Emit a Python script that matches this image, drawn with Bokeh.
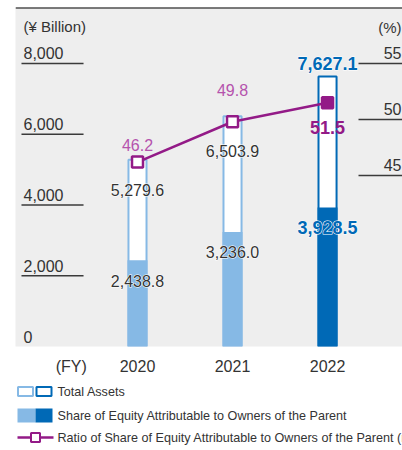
from bokeh.plotting import figure
from bokeh.models import Range1d, FixedTicker, Span
from bokeh.layouts import column
from bokeh.core.properties import value
from bokeh.embed import file_html
from bokeh.resources import INLINE

# ---- data ----
years = ["2020", "2021", "2022"]
total_assets = [5279.6, 6503.9, 7627.1]
equity = [2438.8, 3236.0, 3928.5]
ratio = [46.2, 49.8, 51.5]
left_ticks = [0, 2000, 4000, 6000, 8000]
right_ticks = [45, 50, 55]
legend_labels = ["Total Assets",
                 "Share of Equity Attributable to Owners of the Parent",
                 "Ratio of Share of Equity Attributable to Owners of the Parent (right)"]

# ---- styles ----
LIGHT = "#86b9e5"
DARK = "#0069b6"
PURPLE = "#931a87"
LPURPLE = "#b553ad"
GRAY_TXT = "#333333"
FONT = value("Liberation Sans")

xs = list(range(len(years)))
bar_colors = [LIGHT, LIGHT, DARK]
Y_END = 9580
X0, X1 = -1.284, 2.789

p = figure(width=402, height=380, x_range=Range1d(X0, X1), y_range=Range1d(0, Y_END),
           output_backend="svg", toolbar_location=None, y_axis_location=None,
           min_border_left=15, min_border_right=0, min_border_top=7, min_border_bottom=34,
           background_fill_color="#eeeeee", border_fill_color="white", outline_line_color=None)
p.extra_y_ranges = {"pct": Range1d(29.73, 60.0)}
p.grid.visible = False

ax = p.xaxis[0]
ax.ticker = FixedTicker(ticks=[-0.698] + xs)
ax.major_label_overrides = {-0.698: "(FY)", **{x: y for x, y in zip(xs, years)}}
ax.axis_line_color = None
ax.major_tick_line_color = None
ax.minor_tick_line_color = None
ax.major_tick_out = 0
ax.major_label_standoff = 11
ax.major_label_text_font = "Liberation Sans"
ax.major_label_text_font_size = "16px"
ax.major_label_text_color = GRAY_TXT

p.add_layout(Span(location=Y_END, dimension="width", line_color="black", line_width=2))

# left scale: labels above short lines
lt = [t for t in left_ticks if t > 0]
p.segment(x0=[-1.221] * len(lt), x1=[-0.568] * len(lt), y0=lt, y1=lt, line_color="#3a3a3a", line_width=1.5)
p.text(x=[-1.2] * len(left_ticks), y=left_ticks, text=[f"{t:,}" for t in left_ticks],
       text_font=FONT, text_font_size="16px", text_color=GRAY_TXT,
       text_align="left", text_baseline="alphabetic", y_offset=-10)
p.text(x=[-1.2], y=[Y_END], text=["(¥ Billion)"], text_font=FONT, text_font_size="15px",
       text_color=GRAY_TXT, text_align="left", text_baseline="middle", y_offset=19)

# right scale
p.segment(x0=[2.326] * len(right_ticks), x1=[X1] * len(right_ticks), y0=right_ticks, y1=right_ticks,
          line_color="#3a3a3a", line_width=1.5, y_range_name="pct")
p.text(x=[X1] * len(right_ticks), y=right_ticks, text=[str(t) for t in right_ticks],
       text_font=FONT, text_font_size="16px", text_color=GRAY_TXT, x_offset=-1,
       text_align="right", text_baseline="alphabetic", y_offset=-10, y_range_name="pct")
p.text(x=[X1], y=[Y_END], text=["(%)"], text_font=FONT, text_font_size="15px", x_offset=-1,
       text_color=GRAY_TXT, text_align="right", text_baseline="middle", y_offset=20)

# bars
p.vbar(x=xs, top=total_assets, bottom=0, width=0.19, fill_color="white",
       line_color=bar_colors, line_width=2)
p.vbar(x=xs, top=equity, bottom=0, width=0.21, fill_color=bar_colors, line_color=None)

# ratio line
p.line(xs, ratio, line_color=PURPLE, line_width=2.5, y_range_name="pct")
p.scatter(xs, ratio, marker="square", size=11, line_width=2.5, line_color=PURPLE,
          fill_color=["white", "white", PURPLE], y_range_name="pct")

# labels
ta_off = [30, 35, -13]
eq_off = [21, 20, 20]
ra_off = [-17, -32, 25]
lbl_col = [GRAY_TXT, GRAY_TXT, DARK]
lbl_style = ["normal", "normal", "bold"]
lbl_size = ["16px", "16px", "18px"]


def halo_text(x, y, txt, size, style, color, yoff, **kw):
    # white halo underneath, then the text itself
    p.text(x=[x], y=[y], text=[txt], text_font=FONT, text_font_size=size, text_font_style=style,
           text_color="white", text_outline_color="white", text_align="center",
           text_baseline="middle", y_offset=yoff, **kw)
    p.text(x=[x], y=[y], text=[txt], text_font=FONT, text_font_size=size, text_font_style=style,
           text_color=color, text_align="center", text_baseline="middle", y_offset=yoff, **kw)


for i in xs:
    halo_text(i, total_assets[i], f"{total_assets[i]:,.1f}", lbl_size[i], lbl_style[i], lbl_col[i], ta_off[i])
    halo_text(i, equity[i], f"{equity[i]:,.1f}", lbl_size[i], lbl_style[i], lbl_col[i], eq_off[i])
    p.text(x=[i], y=[ratio[i]], text=[f"{ratio[i]:.1f}"], text_font=FONT,
           text_font_size=lbl_size[i], text_font_style=lbl_style[i],
           text_color=[LPURPLE, LPURPLE, PURPLE][i],
           text_align="center", text_baseline="middle", y_offset=ra_off[i], y_range_name="pct")

# ---- legend ----
lf = figure(width=402, height=70, x_range=Range1d(15, 402), y_range=Range1d(70, 0),
            output_backend="svg", toolbar_location=None, x_axis_location=None, y_axis_location=None,
            min_border=0, min_border_left=15, min_border_right=0, outline_line_color=None,
            background_fill_color="white", border_fill_color="white")
lf.grid.visible = False
lf.rect(x=[25, 43.5], y=[11, 11], width=15, height=9, fill_color="white",
        line_color=[LIGHT, DARK], line_width=2)
lf.rect(x=[26, 43.5], y=[35, 35], width=[18, 17], height=14, fill_color=[LIGHT, DARK], line_color=None)
lf.line(x=[17, 53], y=[57, 57], line_color=PURPLE, line_width=2.5)
lf.scatter(x=[35], y=[57], marker="square", size=9, fill_color="white", line_color=PURPLE, line_width=2)
lf.text(x=[57, 57, 57], y=[11, 35, 57], text=legend_labels, text_font=FONT, text_font_size="12.6px",
        text_color=GRAY_TXT, text_align="left", text_baseline="middle")

layout = column(p, lf, spacing=0)
open("out.html", "w").write(file_html(layout, INLINE))
